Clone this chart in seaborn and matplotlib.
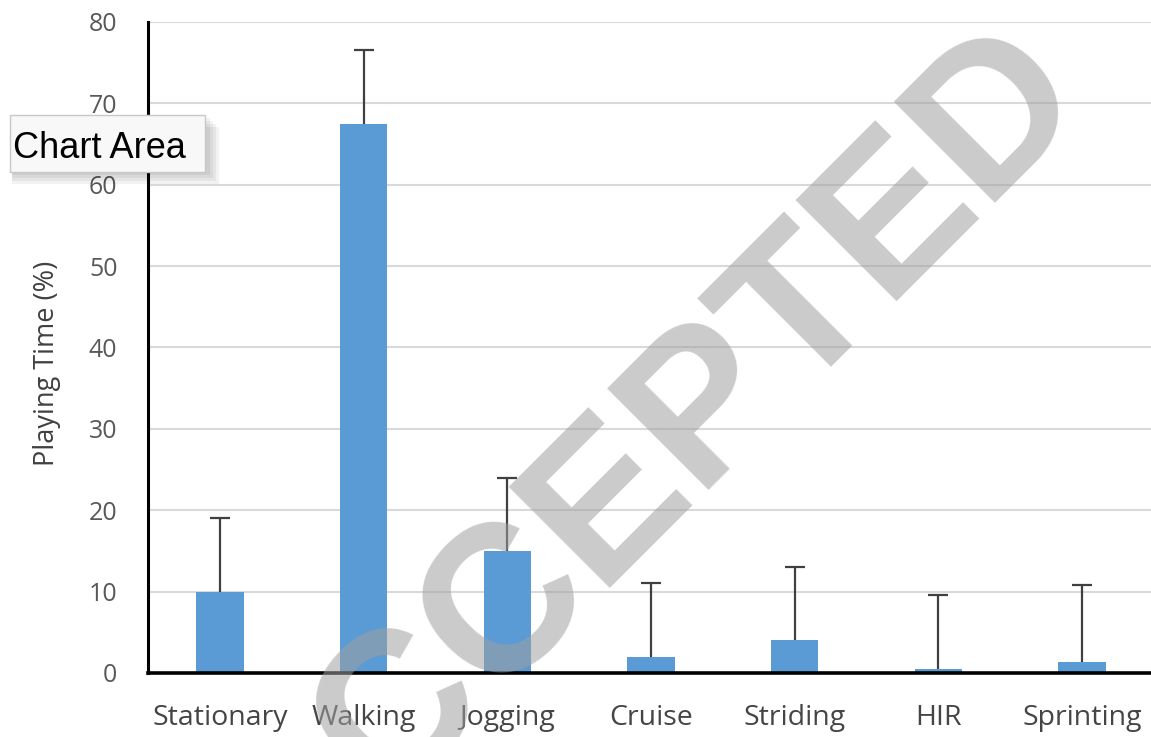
import matplotlib
matplotlib.use("Agg")
import matplotlib.pyplot as plt
import seaborn as sns
from matplotlib.patches import Rectangle

categories = ["Stationary", "Walking", "Jogging", "Cruise", "Striding", "HIR", "Sprinting"]
values = [10.0, 67.5, 15.0, 2.0, 4.0, 0.5, 1.4]
upper_err = [9.0, 9.0, 9.0, 9.1, 9.0, 9.1, 9.4]
y_ticks = [0, 10, 20, 30, 40, 50, 60, 70, 80]
y_label = "Playing Time (%)"
watermark = "ACCEPTED"
tooltip = "Chart Area"

sns.set_theme(style="white")
plt.rcParams["font.family"] = ["Open Sans", "DejaVu Sans"]

W, H = 1151, 737
fig = plt.figure(figsize=(W / 100, H / 100), dpi=100)
ax = fig.add_axes([148 / W, 1 - 673 / H, 1006 / W, 651 / H])

sns.barplot(x=categories, y=values, color="#5b9bd5", width=0.33, ax=ax,
            saturation=1, zorder=3, edgecolor="none")
eb = ax.errorbar(range(len(categories)), values, yerr=[[0] * len(values), upper_err],
                 fmt="none", ecolor="#404040", elinewidth=1.6, capsize=7, capthick=1.6, zorder=4)
eb[1][0].set_visible(False)

ax.set_xlim(-0.5, len(categories) - 0.5)
ax.set_ylim(0, 80)
ax.set_yticks(y_ticks)
ax.set_yticklabels([str(t) for t in y_ticks], color="#595959", fontsize=18)
ax.tick_params(axis="x", colors="#454545", labelsize=20.5, length=0, pad=22)
ax.tick_params(axis="y", length=0, pad=22)
ax.yaxis.grid(True, color="#d9d9d9", linewidth=1.5, zorder=0)
ax.set_axisbelow(True)
for s in ["top", "right"]:
    ax.spines[s].set_visible(False)
for s, lw in [("left", 2.2), ("bottom", 2.6)]:
    ax.spines[s].set_color("black")
    ax.spines[s].set_linewidth(lw)
    ax.spines[s].set_zorder(5)
ax.set_xlabel("")
ax.set_ylabel(y_label, color="#404040", fontsize=19.5)
ax.yaxis.set_label_coords(-0.086, 0.475)

# watermark
fig.text(686 / W, 1 - 507 / H, watermark, rotation=45, rotation_mode="anchor",
         ha="center", va="baseline", fontsize=150, fontweight="bold",
         family="Liberation Sans", color="#a0a0a0", alpha=0.55, zorder=10)

# tooltip with soft shadow
for i in range(4):
    off = 3 + 3 * i
    fig.patches.append(Rectangle(((10 + 2) / W, 1 - (172 + off) / H), (195 + off) / W, 57 / H,
                                 transform=fig.transFigure, facecolor="black", alpha=0.05,
                                 edgecolor="none", zorder=10.5))
fig.patches.append(Rectangle((10 / W, 1 - 172 / H), 195 / W, 57 / H, transform=fig.transFigure,
                             facecolor="#f8f8f8", edgecolor="#c8c8c8", linewidth=1, zorder=11))
fig.text(13 / W, 1 - 148 / H, tooltip, ha="left", va="center", fontsize=26,
         family="Liberation Sans", color="black", zorder=12)

fig.savefig("out.png", dpi=100)
